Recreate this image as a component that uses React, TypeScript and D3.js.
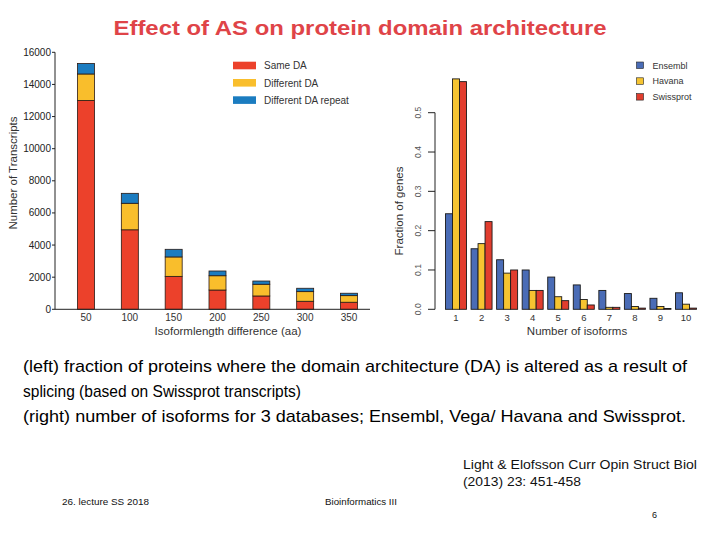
import React from "react";
import * as d3 from "d3";

const leftCategories = ["50", "100", "150", "200", "250", "300", "350"];
const sameDA = [13000, 4950, 2050, 1200, 830, 500, 440];
const differentDA = [1650, 1650, 1210, 890, 730, 600, 410];
const differentDARepeat = [650, 620, 475, 295, 200, 210, 150];
const leftSeries = ["Same DA", "Different DA", "Different DA repeat"];
const leftTicks = [0, 2000, 4000, 6000, 8000, 10000, 12000, 14000, 16000];

const rightCategories = ["1", "2", "3", "4", "5", "6", "7", "8", "9", "10"];
const ensembl = [0.243, 0.154, 0.126, 0.1, 0.082, 0.062, 0.048, 0.04, 0.028, 0.042];
const havana = [0.586, 0.167, 0.092, 0.048, 0.032, 0.025, 0.005, 0.007, 0.007, 0.013];
const swissprot = [0.579, 0.223, 0.1, 0.048, 0.022, 0.011, 0.005, 0.003, 0.002, 0.003];
const rightSeries = ["Ensembl", "Havana", "Swissprot"];
const rightTicks = [0, 0.1, 0.2, 0.3, 0.4, 0.5];

const leftColors = ["#ec412b", "#f9be2c", "#1b7cc0"];
const rightColors = ["#4a6cb6", "#f6c431", "#e13d2e"];

export default function App() {
  const font = "'Liberation Sans', Arial, sans-serif";
  const lx = d3.scalePoint<string>().domain(leftCategories).range([86, 349]);
  const ly = d3.scaleLinear().domain([0, 16000]).range([309.3, 52.3]);
  const barW = 17;
  const stackData = leftCategories.map((c, i) => ({
    cat: c,
    "Same DA": sameDA[i],
    "Different DA": differentDA[i],
    "Different DA repeat": differentDARepeat[i],
  }));
  const stacked = d3.stack<any>().keys(leftSeries)(stackData);

  const rx = d3.scalePoint<string>().domain(rightCategories).range([456, 686]);
  const rInner = d3.scaleBand<string>().domain(rightSeries).range([-10.5, 10.5]).padding(0);
  const ry = d3.scaleLinear().domain([0, 0.5]).range([309.3, 112.7]);
  const rightValues = [ensembl, havana, swissprot];

  return (
    <svg width={720} height={540} style={{ position: "absolute", left: 0, top: 0, background: "#fff" }}>
      <rect x={0} y={0} width={720} height={540} fill="#fff" />
      <text x={360} y={35} textAnchor="middle" fontFamily={font} fontWeight="bold" fontSize={21} fill="#df4448" textLength={493} lengthAdjust="spacingAndGlyphs">
        Effect of AS on protein domain architecture
      </text>

      <g fontFamily={font}>
        {stacked.map((layer, si) =>
          layer.map((d, i) => (
            <rect
              key={`${si}-${i}`}
              x={(lx(leftCategories[i]) as number) - barW / 2}
              y={ly(d[1])}
              width={barW}
              height={ly(d[0]) - ly(d[1])}
              fill={leftColors[si]}
              stroke="#2a1a14"
              strokeWidth={0.8}
            />
          ))
        )}
        <line x1={55} x2={55} y1={ly(16000)} y2={ly(0)} stroke="#222" strokeWidth={1} />
        <line x1={55} x2={370} y1={ly(0)} y2={ly(0)} stroke="#222" strokeWidth={1} />
        {leftTicks.map((t) => (
          <g key={t}>
            <line x1={52} x2={55} y1={ly(t)} y2={ly(t)} stroke="#222" />
            <text x={51} y={ly(t) + 3.5} textAnchor="end" fontSize={10} fill="#222">
              {t}
            </text>
          </g>
        ))}
        {leftCategories.map((c) => (
          <text key={c} x={lx(c)} y={320.5} textAnchor="middle" fontSize={10} fill="#333">
            {c}
          </text>
        ))}
        <text x={228} y={335} textAnchor="middle" fontSize={11.5} fill="#333">
          Isoformlength difference (aa)
        </text>
        <text transform="translate(17,173) rotate(-90)" textAnchor="middle" fontSize={11.5} fill="#333">
          Number of Transcripts
        </text>
        {leftSeries.map((s, i) => (
          <g key={s}>
            <rect x={233} y={61.7 + i * 17.3} width={23} height={7.6} fill={leftColors[i]} />
            <text x={264} y={69.3 + i * 17.3} fontSize={10} fill="#333">
              {s}
            </text>
          </g>
        ))}
      </g>

      <g fontFamily={font}>
        {rightValues.map((vals, si) =>
          vals.map((v, i) => (
            <rect
              key={`${si}-${i}`}
              x={(rx(rightCategories[i]) as number) + (rInner(rightSeries[si]) as number)}
              y={ry(v)}
              width={rInner.bandwidth()}
              height={ry(0) - ry(v)}
              fill={rightColors[si]}
              stroke="#1a1a1a"
              strokeWidth={0.9}
            />
          ))
        )}
        <line x1={435} x2={435} y1={ry(0.5)} y2={ry(0)} stroke="#222" strokeWidth={1} />
        {rightTicks.map((t) => (
          <g key={t}>
            <line x1={428} x2={435} y1={ry(t)} y2={ry(t)} stroke="#222" />
            <text transform={`translate(421,${ry(t)}) rotate(-90)`} textAnchor="middle" fontSize={8.5} fill="#555">
              {t.toFixed(1)}
            </text>
          </g>
        ))}
        {rightCategories.map((c) => (
          <text key={c} x={rx(c)} y={321} textAnchor="middle" fontSize={9.5} fill="#333">
            {c}
          </text>
        ))}
        <text x={577} y={335} textAnchor="middle" fontSize={11.5} fill="#333">
          Number of isoforms
        </text>
        <text transform="translate(403,211) rotate(-90)" textAnchor="middle" fontSize={11.5} fill="#333">
          Fraction of genes
        </text>
        {rightSeries.map((s, i) => (
          <g key={s}>
            <rect x={636.5} y={62 + i * 15.8} width={7} height={6.5} fill={rightColors[i]} stroke="#222" strokeWidth={0.6} />
            <text x={652.5} y={68.5 + i * 15.8} fontSize={9} fill="#333">
              {s}
            </text>
          </g>
        ))}
      </g>

      <g fontFamily={font} fill="#000" fontSize={17}>
        <text x={23} y={372} textLength={664} lengthAdjust="spacingAndGlyphs">
          (left) fraction of proteins where the domain architecture (DA) is altered as a result of
        </text>
        <text x={23} y={397} textLength={278} lengthAdjust="spacingAndGlyphs">
          splicing (based on Swissprot transcripts)
        </text>
        <text x={23} y={422} textLength={663} lengthAdjust="spacingAndGlyphs">
          (right) number of isoforms for 3 databases; Ensembl, Vega/ Havana and Swissprot.
        </text>
      </g>
      <g fontFamily={font} fill="#111">
        <text x={463} y={468.5} fontSize={12.5} textLength={234} lengthAdjust="spacingAndGlyphs">
          Light &amp; Elofsson Curr Opin Struct Biol
        </text>
        <text x={463} y={485.5} fontSize={12.5} textLength={118} lengthAdjust="spacingAndGlyphs">
          (2013) 23: 451-458
        </text>
        <text x={62} y={504.5} fontSize={9} textLength={87} lengthAdjust="spacingAndGlyphs">
          26. lecture SS 2018
        </text>
        <text x={325} y={504.5} fontSize={9} textLength={72} lengthAdjust="spacingAndGlyphs">
          Bioinformatics III
        </text>
        <text x={652} y={518} fontSize={9}>
          6
        </text>
      </g>
    </svg>
  );
}
